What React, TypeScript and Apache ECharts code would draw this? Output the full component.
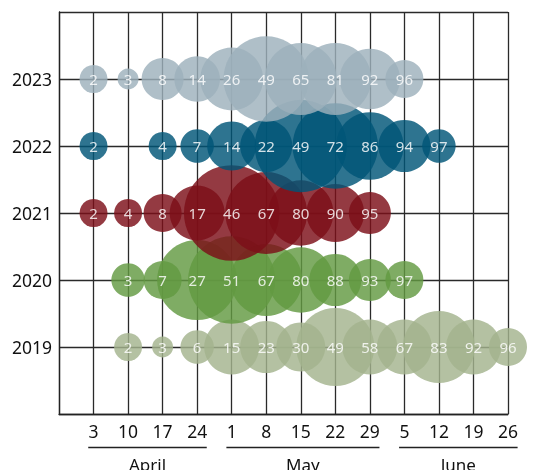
import React, { useEffect, useRef } from "react";
import * as echarts from "echarts";

const xLabels = ["", "3", "10", "17", "24", "1", "8", "15", "22", "29", "5", "12", "19", "26"];
const years = [2019, 2020, 2021, 2022, 2023];
const v2019 = [null, null, 2, 3, 6, 15, 23, 30, 49, 58, 67, 83, 92, 96];
const v2020 = [null, null, 3, 7, 27, 51, 67, 80, 88, 93, 97, null, null, null];
const v2021 = [null, 2, 4, 8, 17, 46, 67, 80, 90, 95, null, null, null, null];
const v2022 = [null, 2, null, 4, 7, 14, 22, 49, 72, 86, 94, 97, null, null];
const v2023 = [null, 2, 3, 8, 14, 26, 49, 65, 81, 92, 96, null, null, null];
const colors = ["#a4b38e", "#639a42", "#7c0f18", "#005678", "#9db1bc"];
const monthNames = ["April", "May", "June"];
const monthStart = [1, 5, 10];
const monthEnd = [4, 9, 13];

const FONT = "'Noto Sans', sans-serif";

function build(vals: (number | null)[], year: number) {
  let prev = 0;
  const out: any[] = [];
  vals.forEach((v, i) => {
    if (v == null) return;
    const inc = v - prev;
    out.push({ value: [i, year, v], symbolSize: 4 + 17 * Math.sqrt(Math.max(inc, 0)) });
    prev = v;
  });
  return out;
}

export default function App() {
  const ref = useRef<HTMLDivElement>(null);
  useEffect(() => {
    if (!ref.current) return;
    const chart = echarts.init(ref.current, null, { renderer: "svg" });
    const all = [v2019, v2020, v2021, v2022, v2023];
    const series = all.map((vals, k) => ({
      type: "scatter",
      name: String(years[k]),
      data: build(vals, years[k]),
      itemStyle: { color: colors[k], opacity: 0.82 },
      label: {
        show: true,
        position: "inside",
        formatter: (p: any) => String(p.value[2]),
        color: "#fff",
        fontSize: 15,
        fontFamily: FONT,
      },
      emphasis: { disabled: true },
    }));
    chart.setOption({
      animation: false,
      grid: { left: 59, right: 46, top: 12, bottom: 56 },
      xAxis: {
        type: "value",
        min: 0,
        max: 13,
        interval: 1,
        axisLine: { show: true, lineStyle: { color: "#222", width: 1.3 } },
        axisTick: { show: false },
        axisLabel: {
          formatter: (v: number) => xLabels[v] ?? "",
          color: "#111",
          fontSize: 17.5,
          margin: 8,
          fontFamily: FONT,
        },
        splitLine: { show: true, lineStyle: { color: "#2a2a2a", width: 1.3 } },
      },
      yAxis: {
        type: "value",
        min: 2018,
        max: 2024,
        interval: 1,
        axisLine: { show: true, lineStyle: { color: "#222", width: 1.3 } },
        axisTick: { show: false },
        axisLabel: {
          formatter: (v: number) => (years.indexOf(v) >= 0 ? String(v) : ""),
          color: "#111",
          fontSize: 17.5,
          margin: 7,
          fontFamily: FONT,
        },
        splitLine: { show: true, lineStyle: { color: "#2a2a2a", width: 1.3 } },
      },
      series,
    });
    const digitW = 4.3;
    const graphics: any[] = [];
    monthNames.forEach((name, m) => {
      const s = monthStart[m];
      const e = monthEnd[m];
      const xs = chart.convertToPixel({ xAxisIndex: 0 }, s) as number;
      const xe = chart.convertToPixel({ xAxisIndex: 0 }, e) as number;
      const x1 = xs - digitW * xLabels[s].length - 1;
      const x2 = xe + digitW * xLabels[e].length + 1;
      graphics.push({
        type: "line",
        shape: { x1, y1: 447.5, x2, y2: 447.5 },
        style: { stroke: "#222", lineWidth: 1.3 },
      });
      graphics.push({
        type: "text",
        x: (x1 + x2) / 2,
        y: 464,
        style: {
          text: name,
          fill: "#111",
          fontSize: 17,
          fontFamily: FONT,
          align: "center",
          verticalAlign: "middle",
        },
      });
    });
    chart.setOption({ graphic: graphics });
    return () => chart.dispose();
  }, []);
  return (
    <div
      ref={ref}
      style={{ position: "fixed", left: 0, top: 0, width: 554, height: 470 }}
    />
  );
}
